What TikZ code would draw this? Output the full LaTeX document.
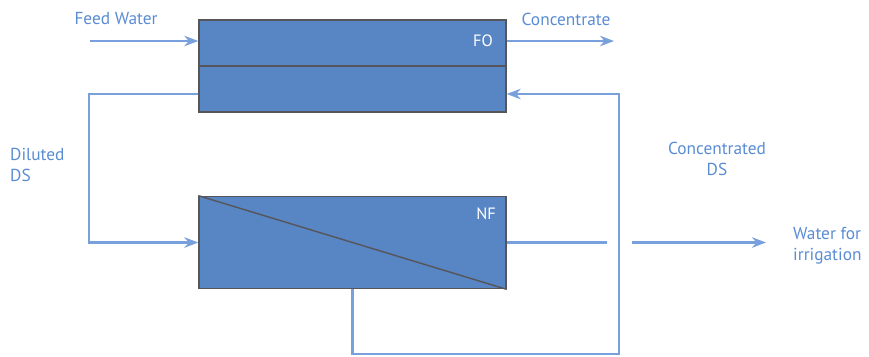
\documentclass[tikz,border=0pt]{standalone}
\usepackage{fontspec}
\setmainfont{PT Sans}
\usetikzlibrary{arrows.meta}
\definecolor{boxblue}{RGB}{88,134,196}
\definecolor{lineblue}{RGB}{120,160,220}
\definecolor{textblue}{RGB}{90,140,212}
\definecolor{edgegray}{RGB}{85,85,90}

\begin{document}
\begin{tikzpicture}[x=0.03cm,y=-0.03cm]
    \useasboundingbox (0,0) rectangle (869,356);

        % the two membrane units
        \begin{scope}[every node/.style={rectangle,draw=edgegray,fill=boxblue,line width=1.2pt,minimum width=9.21cm,minimum height=2.77cm,inner sep=0pt}]
        \node (fo) at (352.5,66) {};
        \node (nf) at (352.5,242.5) {};
        \end{scope}
        \draw[edgegray,line width=1.2pt] (fo.west) -- (fo.east);
        \draw[edgegray,line width=1.2pt] (nf.north west) -- (nf.south east);
        \node[white,font=\fontsize{14}{16}\selectfont,anchor=east] (folbl) at (497,41) {FO};
        \node[white,font=\fontsize{14}{16}\selectfont,anchor=east] (nflbl) at (500,214) {NF};

        % helper points for the pipes
        \coordinate (feed) at (90,41);
        \coordinate (conc) at (614,41);
        \coordinate (dil) at (89,94);
        \coordinate (rettop) at (619,94);
        \coordinate (retbot) at (619,354);
        \coordinate (gapl) at (607,242.5);
        \coordinate (gapr) at (632,242.5);
        \coordinate (water) at (766,242.5);

        % pipes
        \begin{scope}[>={Stealth[length=12pt,width=9pt]},
                  every path/.style={draw=lineblue, line width=1.8pt}]
        \path [->] (feed) -- (feed -| fo.west);
        \path [->] (conc -| fo.east) -- (conc);
        \path [->] (dil -| fo.west) -- (dil) -- (dil |- nf.west) -- (nf.west);
        \path [->] (nf.south) -- (nf.south |- retbot) -- (retbot) -- (rettop) -- (rettop -| fo.east);
        \path (nf.east) -- (gapl);
        \path [->] (gapr) -- (water);
        \end{scope}

        % stream labels
        \begin{scope}[every node/.style={text=textblue,font=\fontsize{14.8}{18}\selectfont,inner sep=0pt}]
        \node (feedlbl) at (116,19) {Feed Water};
        \node (conclbl) at (566,19) {Concentrate};
        \node[align=left,anchor=west] (dillbl) at (10,165) {Diluted\\DS};
        \node[align=center] (cdslbl) at (717,159) {Concentrated\\DS};
        \node[align=left,anchor=west] (waterlbl) at (793,246) {Water for\\irrigation};
        \end{scope}

\end{tikzpicture}
\end{document}
